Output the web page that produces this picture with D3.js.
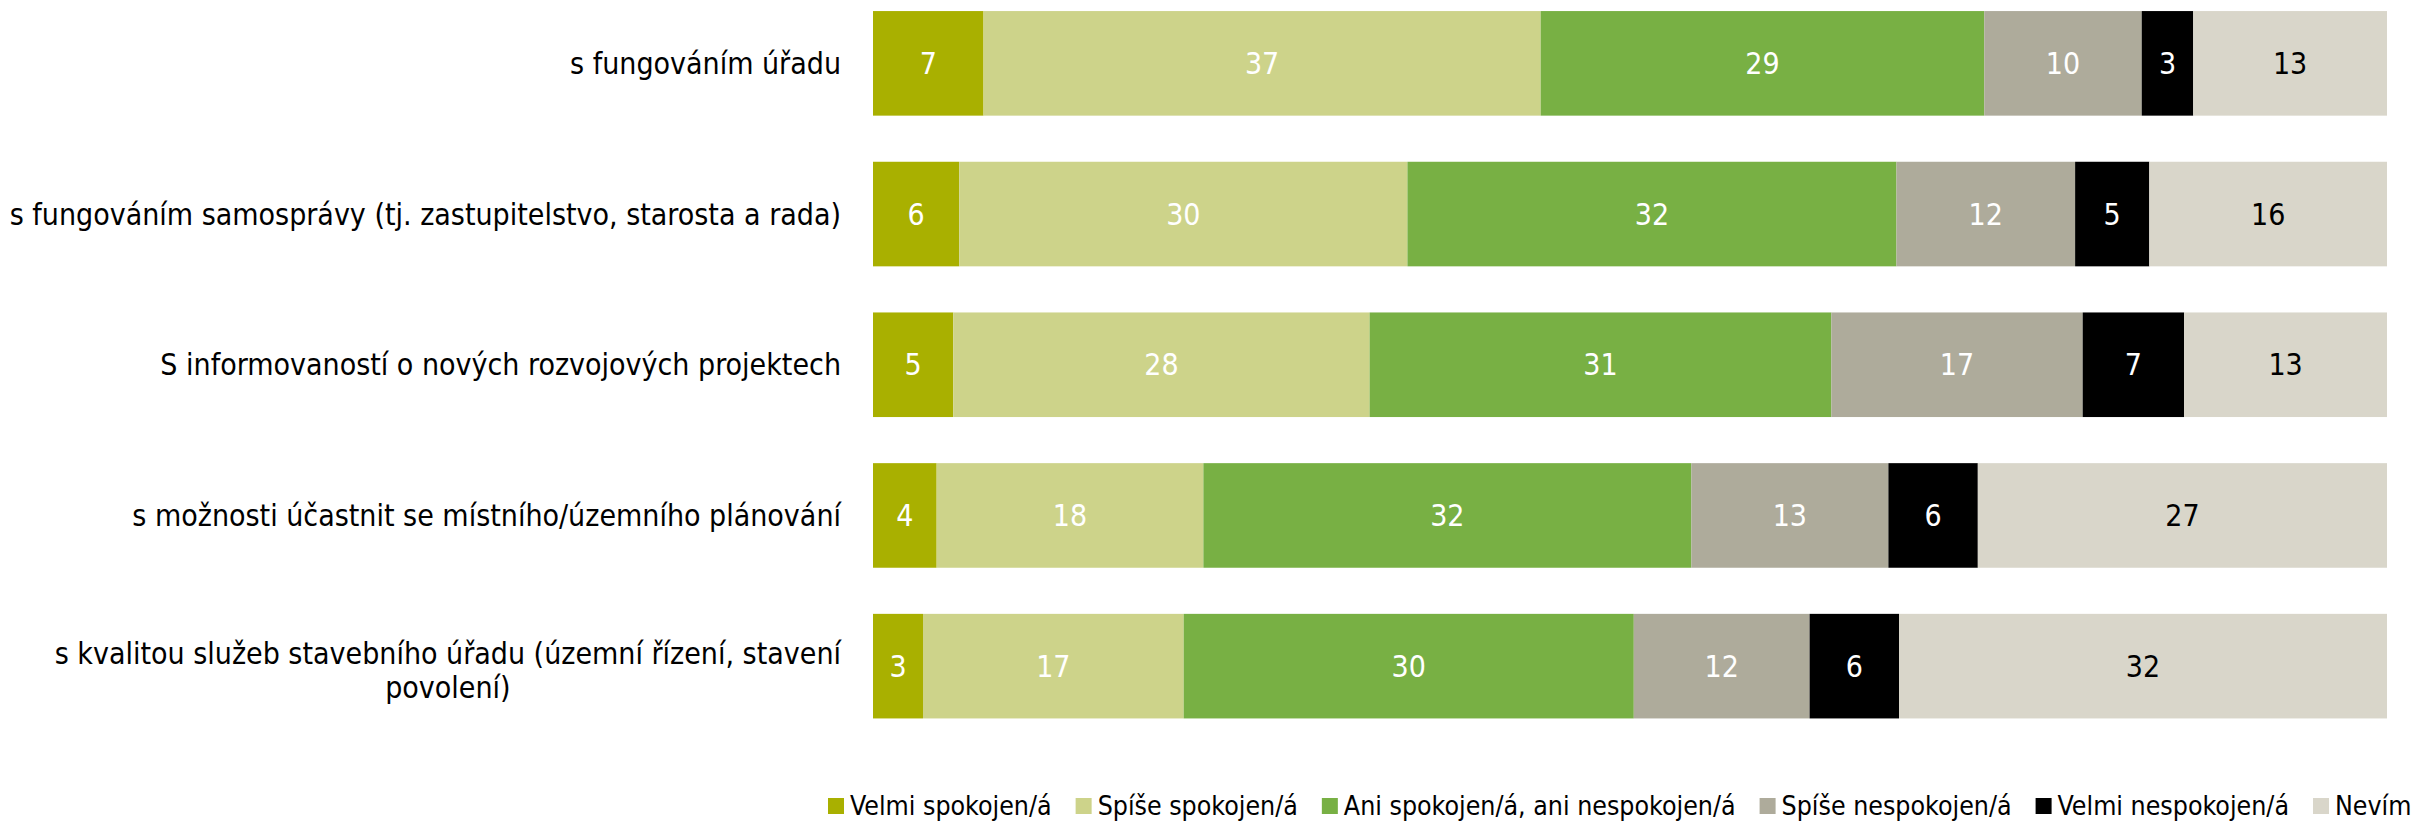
<!DOCTYPE html>
<html>
<head>
<meta charset="utf-8">
<title>Spokojenost</title>
<style>
  body { margin: 0; background: #fff; }
  svg text { font-family: "Liberation Sans Narrow", "DejaVu Sans Condensed", "Arial Narrow", sans-serif; }
</style>
</head>
<body>
<div id="chart"></div>
<script src="https://d3js.org/d3.v7.min.js"></script>
<script>
// kategorie (řádky grafu), "|" = zalomení řádku
const categories = [
  "s fungováním úřadu",
  "s fungováním samosprávy (tj. zastupitelstvo, starosta a rada)",
  "S informovaností o nových rozvojových projektech",
  "s možnosti účastnit se místního/územního plánování",
  "s kvalitou služeb stavebního úřadu (územní řízení, stavení|povolení)"
];

// odpovědi (série)
const answers = ["Velmi spokojen/á", "Spíše spokojen/á", "Ani spokojen/á, ani nespokojen/á",
                 "Spíše nespokojen/á", "Velmi nespokojen/á", "Nevím"];
const colors = ["#a9b000", "#cdd38a", "#78b044", "#aeab9b", "#000000", "#d9d6ca"];
const labelColors = ["#fff", "#fff", "#fff", "#fff", "#fff", "#000"];

// podíly v %, v pořadí kategorií
const velmiSpokojen   = [7.3, 5.7, 5.3, 4.2, 3.3];
const spiseSpokojen   = [36.8, 29.6, 27.5, 17.6, 17.2];
const ani             = [29.3, 32.3, 30.5, 32.2, 29.7];
const spiseNespokojen = [10.4, 11.8, 16.6, 13.0, 11.6];
const velmiNespokojen = [3.4, 4.9, 6.7, 5.9, 5.9];
const nevim           = [12.8, 15.7, 13.4, 27.0, 32.2];

const seriesValues = [velmiSpokojen, spiseSpokojen, ani, spiseNespokojen, velmiNespokojen, nevim];

const rows = categories.map((c, i) => {
  const r = { cat: c };
  answers.forEach((a, j) => r[a] = seriesValues[j][i]);
  return r;
});

const width = 2412, height = 823;
const margin = { left: 873, right: 25 };

const svg = d3.select('#chart').append('svg')
  .attr('width', width)
  .attr('height', height);

const x = d3.scaleLinear().domain([0, 1]).range([margin.left, width - margin.right]);
const y = d3.scaleBand().domain(categories).range([-12, 741.5]).paddingInner(0.306).paddingOuter(0.153);

const stack = d3.stack().keys(answers).offset(d3.stackOffsetExpand);
const stacked = stack(rows);

const layer = svg.append('g').selectAll('g')
  .data(stacked)
  .enter().append('g')
  .attr('fill', (d, i) => colors[i]);

layer.selectAll('rect')
  .data(d => d)
  .enter().append('rect')
  .attr('x', d => x(d[0]))
  .attr('y', d => y(d.data.cat))
  .attr('width', d => x(d[1]) - x(d[0]))
  .attr('height', y.bandwidth());

// hodnoty uvnitř pruhů
stacked.forEach((s, i) => {
  svg.append('g').selectAll('text')
    .data(s)
    .enter().append('text')
    .attr('x', d => (x(d[0]) + x(d[1])) / 2)
    .attr('y', d => y(d.data.cat) + y.bandwidth() / 2)
    .attr('dy', '0.35em')
    .attr('text-anchor', 'middle')
    .style('font-size', '30px')
    .style('fill', labelColors[i])
    .text(d => Math.round(d.data[s.key]));
});

// popisky kategorií
const labelRight = 841;
categories.forEach(c => {
  const lines = c.split('|');
  const cy = y(c) + y.bandwidth() / 2 + (lines.length > 1 ? 4 : 0);
  const lh = 34;
  const g = svg.append('g');
  const t0 = g.append('text')
    .attr('x', labelRight)
    .attr('y', cy - (lines.length - 1) * lh / 2)
    .attr('dy', '0.35em')
    .attr('text-anchor', 'end')
    .style('font-size', '30px')
    .style('fill', '#000')
    .text(lines[0]);
  if (lines.length > 1) {
    const w = t0.node().getComputedTextLength();
    lines.slice(1).forEach((l, k) => {
      g.append('text')
        .attr('x', labelRight - w / 2)
        .attr('y', cy - (lines.length - 1) * lh / 2 + (k + 1) * lh)
        .attr('dy', '0.35em')
        .attr('text-anchor', 'middle')
        .style('font-size', '30px')
        .style('fill', '#000')
        .text(l);
    });
  }
});

// legenda
const legend = svg.append('g').attr('transform', 'translate(828,806)');
let lx = 0;
answers.forEach((a, i) => {
  const item = legend.append('g').attr('transform', `translate(${lx},0)`);
  item.append('rect')
    .attr('x', 0).attr('y', -8)
    .attr('width', 16).attr('height', 16)
    .attr('fill', colors[i]);
  const t = item.append('text')
    .attr('x', 22).attr('y', 0)
    .attr('dy', '0.35em')
    .style('font-size', '26.5px')
    .style('fill', '#000')
    .text(a);
  lx += 22 + t.node().getComputedTextLength() + 24;
});
</script>
</body>
</html>
